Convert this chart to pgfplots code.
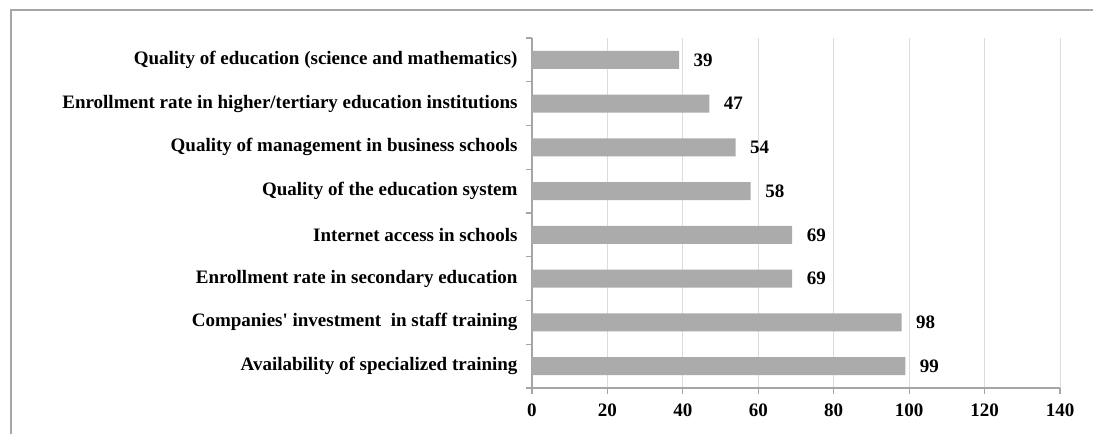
\documentclass[border=0pt]{standalone}
\usepackage{pgfplots}
\pgfplotsset{compat=1.18}
\usepackage{fontspec}
\setmainfont{Liberation Serif}
\definecolor{barg}{HTML}{ABABAB}
\definecolor{axg}{HTML}{A6A6A6}
\definecolor{gridg}{HTML}{DCDCDC}
\begin{document}
\begin{tikzpicture}
\useasboundingbox (0,0) rectangle (1093pt,434pt);
\draw[axg, line width=1.5pt] (11pt,0) -- (11pt,424pt) -- (1093pt,424pt);
\begin{axis}[
  at={(532pt,46pt)}, anchor=south west,
  scale only axis, width=528pt, height=350pt,
  xbar, bar width=18pt,
  xmin=0, xmax=140, ymin=0.5, ymax=8.5,
  xtick={0,20,...,140},
  ytick={0.5,1.5,...,8.5}, yticklabels={},
  extra y ticks={1,2,3,4,5,6,7,8},
  extra y tick labels={Availability of specialized training, Companies\textquotesingle\ investment\ \ in staff training, Enrollment rate in secondary education, Internet access in schools, Quality of the education system, Quality of management in business schools, Enrollment rate in higher/tertiary education institutions, Quality of education (science and mathematics)},
  extra y tick style={major tick length=0pt, ymajorgrids=false, tick label style={xshift=-11pt}},
  axis x line*=bottom, axis y line*=left,
  axis line style={axg, line width=1.2pt},
  tick style={axg, line width=1.2pt},
  major tick length=6pt, tick align=outside,
  xmajorgrids, grid style={gridg, line width=1pt},
  ymajorgrids=false,
  /pgf/number format/assume math mode=true,
  tick label style={font=\fontsize{19}{22}\selectfont\bfseries, text=black},
  xticklabel style={yshift=-6pt},
  nodes near coords,
  nodes near coords style={font=\fontsize{19}{22}\selectfont\bfseries, text=black, anchor=west, xshift=11pt},
  point meta=explicit symbolic,
]
\addplot[fill=barg, draw=none] coordinates {
(99,1) [99]
(98,2) [98]
(69,3) [69]
(69,4) [69]
(58,5) [58]
(54,6) [54]
(47,7) [47]
(39,8) [39]
};
\end{axis}
\end{tikzpicture}
\end{document}
